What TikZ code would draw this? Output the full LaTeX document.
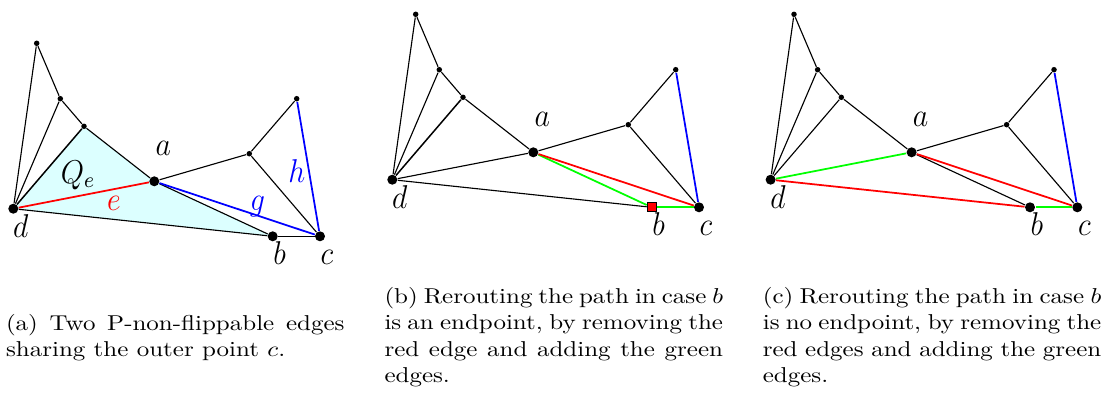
\documentclass[tikz,border=0pt]{standalone}
\usepackage{graphicx}
\pgfdeclarelayer{bg}
\pgfsetlayers{bg,main}
\definecolor{qfill}{RGB}{220,255,255}
\newcommand\sqz[1]{\scalebox{1}[0.86]{#1}}
\newcommand\jl[1]{\sqz{\makebox[135.4pt][s]{#1}}}
\newcommand\nl[1]{\sqz{#1}}
\newcommand\lb[1]{\scalebox{1}[1.1]{#1}}
% prefix, dx, dy, style of b
\newcommand\mkpanel[4]{%
 \begin{scope}[shift={(#2,#3)}]
  \node[smalldot] (#1t1) at (36.7,43.3) {};
  \node[smalldot] (#1t2) at (60.3,98.7) {};
  \node[smalldot] (#1t3) at (84,126.3) {};
  \node[bigdot]   (#1a)  at (154.3,181.3) {};
  \node[bigdot]   (#1d)  at (13.3,208.7) {};
  \node[#4]       (#1b)  at (272.7,236.3) {};
  \node[bigdot]   (#1c)  at (320,236.3) {};
  \node[smalldot] (#1m)  at (249.3,153.7) {};
  \node[smalldot] (#1r)  at (296.7,98.7) {};
  \node[lbl] (#1la) at (163.3,155) {\lb{$a$}};
  \node[lbl] (#1ld) at (20.7,237) {\lb{$d$}};
  \node[lbl] (#1lb) at (279.5,264) {\lb{$b$}};
  \node[lbl] (#1lc) at (327,264) {\lb{$c$}};
 \end{scope}}
\begin{document}
\begin{tikzpicture}[x=0.4pt,y=-0.4pt,
  bigdot/.style={circle,fill=black,inner sep=0pt,minimum size=4pt},
  smalldot/.style={circle,fill=black,inner sep=0pt,minimum size=2.2pt},
  sqnode/.style={rectangle,fill=red,draw=black,line width=0.4pt,inner sep=0pt,minimum size=3.6pt},
  blk/.style={line width=0.45pt,black},
  redl/.style={line width=0.7pt,red},
  bluel/.style={line width=0.7pt,blue},
  greenl/.style={line width=0.7pt,green},
  lbl/.style={inner sep=0pt,anchor=base,font=\fontsize{11.5}{13}\selectfont},
  captxt/.style={inner sep=0pt,anchor=base west,font=\fontsize{10}{12}\selectfont}]
\useasboundingbox (0,0) rectangle (1111,394);

% ---------- panel (a)
\mkpanel{A}{0}{0}{bigdot}
\begin{pgfonlayer}{bg}
  \fill[qfill] (Ad.center) -- (At3.center) -- (Aa.center) -- (Ab.center) -- cycle;
\end{pgfonlayer}
\draw[blk] (At1) -- (At2) -- (At3) -- (Aa);
\draw[blk] (Ad) -- (At1);
\draw[blk] (Ad) -- (At2);
\draw[blk,line width=0.6pt] (Ad) -- (At3);
\draw[blk] (Ad) -- (Ab);
\draw[blk] (Aa) -- (Ab);
\draw[blk] (Ab) -- (Ac);
\draw[blk] (Aa) -- (Am) -- (Ar);
\draw[blk] (Am) -- (Ac);
\draw[redl] (Ad) -- (Aa);
\draw[bluel] (Aa) -- (Ac);
\draw[bluel] (Ar) -- (Ac);
\node[lbl] (lQ) at (78,183) {\lb{$Q_e$}};
\node[lbl,text=red] (le) at (114,210) {\lb{$e$}};
\node[lbl,text=blue] (lg) at (257.5,210) {\lb{$g$}};
\node[lbl,text=blue] (lh) at (296.7,182.5) {\lb{$h$}};

% ---------- panel (b)
\mkpanel{B}{379}{-29}{sqnode}
\draw[blk] (Bt1) -- (Bt2) -- (Bt3) -- (Ba);
\draw[blk] (Bd) -- (Bt1);
\draw[blk] (Bd) -- (Bt2);
\draw[blk,line width=0.6pt] (Bd) -- (Bt3);
\draw[blk] (Bd) -- (Ba);
\draw[blk] (Bd) -- (Bb);
\draw[blk] (Ba) -- (Bm) -- (Br);
\draw[blk] (Bm) -- (Bc);
\draw[greenl] (Ba) -- (Bb);
\draw[greenl] (Bb) -- (Bc);
\draw[redl] (Ba) -- (Bc);
\draw[bluel] (Br) -- (Bc);

% ---------- panel (c)
\mkpanel{C}{757.3}{-29}{bigdot}
\draw[blk] (Ct1) -- (Ct2) -- (Ct3) -- (Ca);
\draw[blk] (Cd) -- (Ct1);
\draw[blk] (Cd) -- (Ct2);
\draw[blk] (Cd) -- (Ct3);
\draw[blk] (Ca) -- (Cb);
\draw[blk] (Ca) -- (Cm) -- (Cr);
\draw[blk] (Cm) -- (Cc);
\draw[greenl] (Cd) -- (Ca);
\draw[greenl] (Cb) -- (Cc);
\draw[redl] (Cd) -- (Cb);
\draw[redl] (Ca) -- (Cc);
\draw[bluel] (Cr) -- (Cc);

% ---------- captions
\node[captxt] (ca1) at (5.5,330) {\jl{(a) Two P-non-flippable edges}};
\node[captxt] (ca2) at (5.5,356.4) {\nl{sharing the outer point $c$.}};

\node[captxt] (cb1) at (384,303.5) {\jl{(b) Rerouting the path in case $b$}};
\node[captxt] (cb2) at (384,329.9) {\jl{is an endpoint, by removing the}};
\node[captxt] (cb3) at (384,356.3) {\jl{red edge and adding the green}};
\node[captxt] (cb4) at (384,382.7) {\nl{edges.}};

\node[captxt] (cc1) at (762.3,303.5) {\jl{(c) Rerouting the path in case $b$}};
\node[captxt] (cc2) at (762.3,329.9) {\jl{is no endpoint, by removing the}};
\node[captxt] (cc3) at (762.3,356.3) {\jl{red edges and adding the green}};
\node[captxt] (cc4) at (762.3,382.7) {\nl{edges.}};
\end{tikzpicture}
\end{document}
